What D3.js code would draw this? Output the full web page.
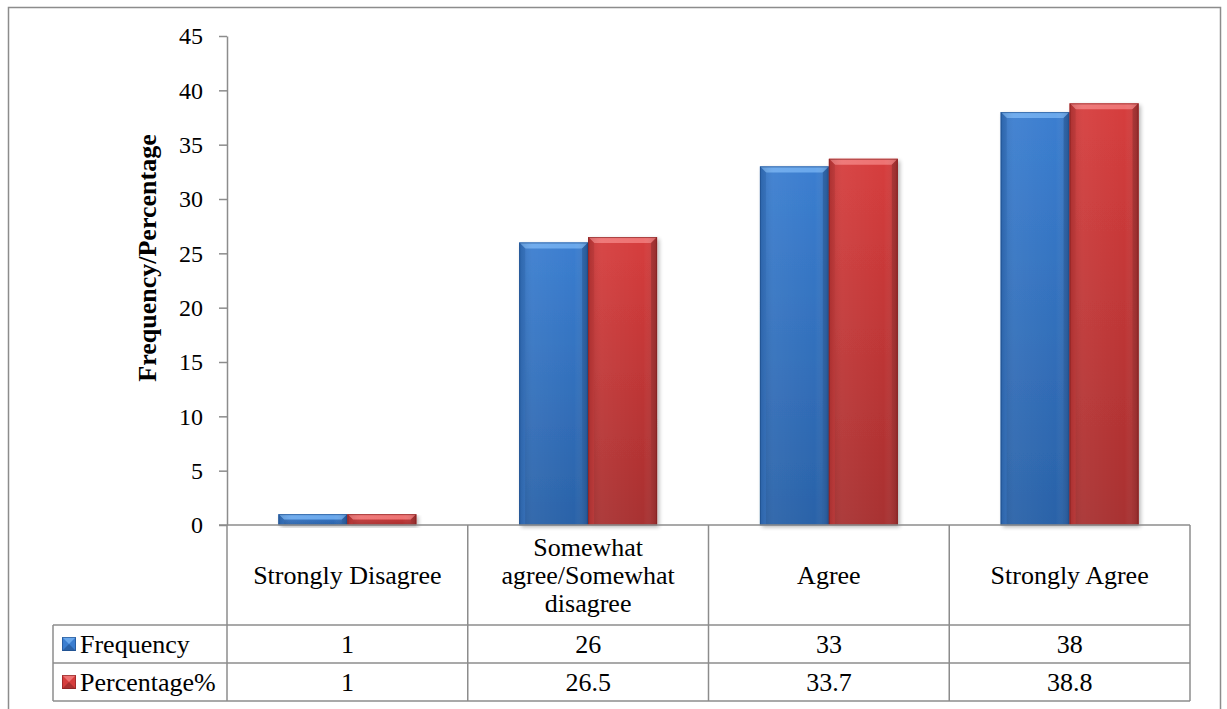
<!DOCTYPE html>
<html>
<head>
<meta charset="utf-8">
<script src="https://cdn.jsdelivr.net/npm/d3@7/dist/d3.min.js"></script>
<style>
  html, body { margin: 0; padding: 0; background: #fff; }
  svg { display: block; font-family: "Liberation Serif", "Times New Roman", serif; }
</style>
</head>
<body>
<svg id="chart" width="1227" height="709"></svg>
<script>
// Survey responses by agreement level
const categories = ["Strongly Disagree", "Somewhat agree/Somewhat disagree", "Agree", "Strongly Agree"];
const categoryLines = [["Strongly Disagree"], ["Somewhat", "agree/Somewhat", "disagree"], ["Agree"], ["Strongly Agree"]];
const seriesNames = ["Frequency", "Percentage%"];
const frequency = [1, 26, 33, 38];
const percentage = [1, 26.5, 33.7, 38.8];
const yTicks = [0, 5, 10, 15, 20, 25, 30, 35, 40, 45];
const yTitle = "Frequency/Percentage";

const seriesValues = [frequency, percentage];
const palettes = [
  { main: "#3b7ed0", light: "#6aa8ec", dark: "#2a62a8", edge: "#1d4a86", side: "#3170bf" },
  { main: "#d63d3d", light: "#ee7373", dark: "#a83030", edge: "#7e1f1f", side: "#c13535" }
];

const svg = d3.select("#chart");
const plot = { left: 227, right: 1190, top: 36, bottom: 525 };
const table = { legendLeft: 53, row1: 625, row2: 663, row3: 701 };
const lineColor = "#8c8c8c";
const textSize = 26;

// outer chart frame
svg.append("rect")
  .attr("x", 8.5).attr("y", 7.5)
  .attr("width", 1212).attr("height", 720)
  .attr("fill", "none").attr("stroke", lineColor).attr("stroke-width", 1.5);

const x = d3.scaleBand().domain(categories).range([plot.left, plot.right]).padding(0);
const xInner = d3.scaleBand().domain(seriesNames).range([0, x.bandwidth()])
  .paddingInner(0).paddingOuter(0.746);
const y = d3.scaleLinear().domain([0, 45]).range([plot.bottom, plot.top]);

const defs = svg.append("defs");
palettes.forEach((p, i) => {
  const g = defs.append("linearGradient").attr("id", "face" + i)
    .attr("x1", 0).attr("y1", 0).attr("x2", 0).attr("y2", 1);
  g.append("stop").attr("offset", "0%").attr("stop-color", p.main);
  g.append("stop").attr("offset", "100%").attr("stop-color", p.dark);
  const h = defs.append("linearGradient").attr("id", "sheen" + i)
    .attr("x1", 0).attr("y1", 0).attr("x2", 1).attr("y2", 0);
  h.append("stop").attr("offset", "0%").attr("stop-color", "#000").attr("stop-opacity", 0.12);
  h.append("stop").attr("offset", "20%").attr("stop-color", "#fff").attr("stop-opacity", 0.05);
  h.append("stop").attr("offset", "80%").attr("stop-color", "#fff").attr("stop-opacity", 0.0);
  h.append("stop").attr("offset", "100%").attr("stop-color", "#000").attr("stop-opacity", 0.15);
});
const shadow = defs.append("filter").attr("id", "shadow")
  .attr("x", "-10%").attr("y", "-10%").attr("width", "130%").attr("height", "130%");
shadow.append("feGaussianBlur").attr("in", "SourceAlpha").attr("stdDeviation", 2);
shadow.append("feOffset").attr("dx", 2).attr("dy", 2).attr("result", "b");
shadow.append("feComponentTransfer").append("feFuncA").attr("type", "linear").attr("slope", 0.3);
const merge = shadow.append("feMerge");
merge.append("feMergeNode");
merge.append("feMergeNode").attr("in", "SourceGraphic");

// y axis
const yAxis = d3.axisLeft(y).tickValues(yTicks).tickSize(8).tickPadding(16).tickSizeOuter(0);
const yG = svg.append("g").attr("transform", `translate(${plot.left},0)`).call(yAxis);
yG.attr("font-family", null);
yG.select(".domain").attr("stroke", lineColor).attr("stroke-width", 1.5);
yG.selectAll(".tick line").attr("stroke", lineColor).attr("stroke-width", 1.5);
yG.selectAll(".tick text")
  .attr("font-family", "Liberation Serif, serif")
  .attr("font-size", 24).attr("fill", "#000");

svg.append("text")
  .attr("transform", `translate(156,258) rotate(-90)`)
  .attr("text-anchor", "middle")
  .attr("font-size", 26).attr("font-weight", "bold")
  .text(yTitle);

// bars with bevelled edges
const barsG = svg.append("g");
categories.forEach((cat, ci) => {
  seriesNames.forEach((s, si) => {
    const v = seriesValues[si][ci];
    const x0 = x(cat) + xInner(s);
    const w = xInner.bandwidth();
    const y0 = y(v);
    const h = y(0) - y0;
    const p = palettes[si];
    const b = Math.min(6, h / 2);
    const g = barsG.append("g");
    g.append("rect").attr("x", x0).attr("y", y0).attr("width", w).attr("height", h)
      .attr("fill", `url(#face${si})`).attr("filter", "url(#shadow)");
    // top bevel
    g.append("path")
      .attr("d", `M${x0},${y0}L${x0 + w},${y0}L${x0 + w - b},${y0 + b}L${x0 + b},${y0 + b}Z`)
      .attr("fill", p.light);
    // side bevels
    g.append("path")
      .attr("d", `M${x0},${y0}L${x0 + b},${y0 + b}L${x0 + b},${y0 + h}L${x0},${y0 + h}Z`)
      .attr("fill", p.side).attr("opacity", 0.9);
    g.append("path")
      .attr("d", `M${x0 + w},${y0}L${x0 + w - b},${y0 + b}L${x0 + w - b},${y0 + h}L${x0 + w},${y0 + h}Z`)
      .attr("fill", p.dark).attr("opacity", 0.9);
    g.append("rect").attr("x", x0).attr("y", y0).attr("width", w).attr("height", h)
      .attr("fill", `url(#sheen${si})`);
    g.append("rect").attr("x", x0 + 0.5).attr("y", y0 + 0.5).attr("width", w - 1).attr("height", h - 0.5)
      .attr("fill", "none").attr("stroke", p.edge).attr("stroke-opacity", 0.6).attr("stroke-width", 1);
  });
});

// data table under the plot
const grid = svg.append("g").attr("stroke", lineColor).attr("stroke-width", 1.5).attr("fill", "none");
grid.append("line").attr("x1", plot.left - 8).attr("x2", plot.right).attr("y1", plot.bottom).attr("y2", plot.bottom);
[table.row1, table.row2, table.row3].forEach(r => {
  grid.append("line").attr("x1", table.legendLeft).attr("x2", plot.right).attr("y1", r).attr("y2", r);
});
categories.forEach(cat => {
  grid.append("line").attr("x1", x(cat)).attr("x2", x(cat)).attr("y1", plot.bottom).attr("y2", table.row3);
});
grid.append("line").attr("x1", plot.right).attr("x2", plot.right).attr("y1", plot.bottom).attr("y2", table.row3);
grid.append("line").attr("x1", table.legendLeft).attr("x2", table.legendLeft).attr("y1", table.row1).attr("y2", table.row3);

// category labels
const lineH = 28;
categories.forEach((cat, ci) => {
  const lines = categoryLines[ci];
  const cx = x(cat) + x.bandwidth() / 2;
  const cy = (plot.bottom + table.row1) / 2;
  const t = svg.append("text").attr("text-anchor", "middle").attr("font-size", textSize);
  lines.forEach((ln, li) => {
    t.append("tspan").attr("x", cx)
      .attr("y", cy + (li - (lines.length - 1) / 2) * lineH + 9)
      .text(ln);
  });
});

// legend rows and values
const rows = [table.row1, table.row2];
seriesNames.forEach((s, si) => {
  const top = rows[si];
  const cy = top + (table.row2 - table.row1) / 2;
  const p = palettes[si];
  const k = 14, kx = 62, ky = cy - 7;
  svg.append("rect").attr("x", kx).attr("y", ky).attr("width", k).attr("height", k).attr("fill", p.main);
  svg.append("path").attr("d", `M${kx},${ky}L${kx + k},${ky}L${kx + k / 2},${ky + k / 2}Z`).attr("fill", p.light);
  svg.append("path").attr("d", `M${kx},${ky + k}L${kx + k},${ky + k}L${kx + k / 2},${ky + k / 2}Z`).attr("fill", p.dark);
  svg.append("rect").attr("x", kx + 0.5).attr("y", ky + 0.5).attr("width", k - 1).attr("height", k - 1)
    .attr("fill", "none").attr("stroke", p.edge).attr("stroke-opacity", 0.6);
  svg.append("text").attr("x", 80).attr("y", cy + 9).attr("font-size", textSize).text(s);
  categories.forEach((cat, ci) => {
    svg.append("text")
      .attr("x", x(cat) + x.bandwidth() / 2).attr("y", cy + 9)
      .attr("text-anchor", "middle").attr("font-size", textSize)
      .text(seriesValues[si][ci]);
  });
});
</script>
</body>
</html>
